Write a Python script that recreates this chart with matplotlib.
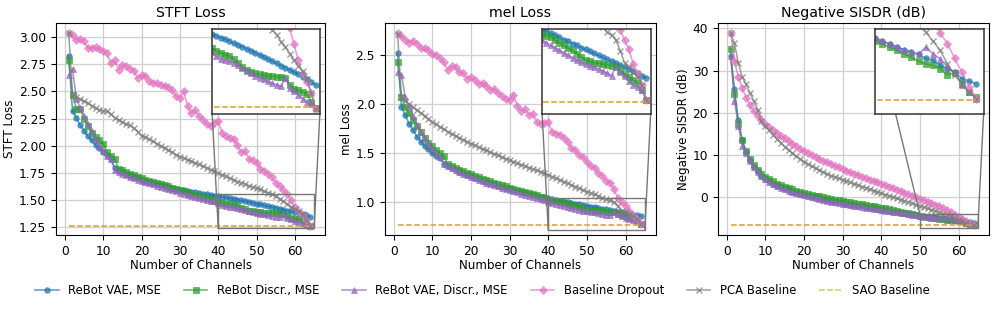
import numpy as np
import matplotlib
matplotlib.use("Agg")
import matplotlib.pyplot as plt
from matplotlib.lines import Line2D
from matplotlib.patches import ConnectionPatch

channels = list(range(1, 65))

# ---------------- STFT Loss ----------------
stft_vae = [2.83, 2.32, 2.26, 2.19, 2.14, 2.09, 2.05, 2.01, 1.98, 1.94, 1.92, 1.88, 1.80, 1.77, 1.755, 1.74,
            1.725, 1.71, 1.70, 1.69, 1.68, 1.67, 1.66, 1.65, 1.64, 1.63, 1.622, 1.614, 1.606, 1.598, 1.591, 1.584,
            1.577, 1.571, 1.565, 1.559, 1.553, 1.547, 1.542, 1.537, 1.531, 1.525, 1.519, 1.512, 1.505, 1.498, 1.491, 1.484,
            1.477, 1.469, 1.461, 1.453, 1.445, 1.437, 1.429, 1.421, 1.413, 1.405, 1.397, 1.389, 1.38, 1.371, 1.36, 1.349]
stft_discr = [2.79, 2.47, 2.34, 2.34, 2.25, 2.18, 2.12, 2.08, 2.05, 2.02, 1.94, 1.91, 1.88, 1.79, 1.775, 1.76,
              1.745, 1.73, 1.715, 1.70, 1.69, 1.68, 1.67, 1.66, 1.648, 1.637, 1.626, 1.615, 1.604, 1.59, 1.58, 1.57,
              1.56, 1.55, 1.54, 1.53, 1.52, 1.51, 1.497, 1.485, 1.475, 1.468, 1.462, 1.458, 1.445, 1.43, 1.415, 1.405,
              1.396, 1.392, 1.388, 1.385, 1.383, 1.381, 1.379, 1.377, 1.376, 1.35, 1.335, 1.328, 1.323, 1.315, 1.285, 1.262]
stft_vae_discr = [2.65, 2.71, 2.43, 2.35, 2.27, 2.20, 2.14, 2.06, 2.00, 1.95, 1.91, 1.88, 1.775, 1.76, 1.745, 1.73,
                  1.715, 1.70, 1.69, 1.68, 1.668, 1.656, 1.645, 1.634, 1.623, 1.612, 1.601, 1.59, 1.58, 1.57, 1.56, 1.551,
                  1.542, 1.533, 1.524, 1.515, 1.506, 1.497, 1.488, 1.472, 1.455, 1.447, 1.441, 1.437, 1.43, 1.423, 1.412, 1.402,
                  1.392, 1.383, 1.376, 1.369, 1.362, 1.355, 1.349, 1.343, 1.376, 1.337, 1.325, 1.313, 1.298, 1.287, 1.276, 1.264]
stft_dropout = [3.04, 3.02, 2.97, 2.98, 2.96, 2.90, 2.90, 2.91, 2.89, 2.87, 2.85, 2.76, 2.79, 2.70, 2.74, 2.73,
                2.71, 2.69, 2.62, 2.65, 2.64, 2.60, 2.58, 2.58, 2.56, 2.55, 2.54, 2.51, 2.46, 2.44, 2.50, 2.37,
                2.30, 2.33, 2.27, 2.24, 2.20, 2.18, 2.21, 2.23, 2.12, 2.09, 2.07, 2.06, 2.01, 1.94, 1.95, 1.88,
                1.87, 1.84, 1.79, 1.77, 1.74, 1.71, 1.66, 1.63, 1.59, 1.56, 1.50, 1.44, 1.39, 1.36, 1.32, 1.26]
stft_pca = [3.04, 2.47, 2.45, 2.43, 2.41, 2.39, 2.37, 2.35, 2.33, 2.32, 2.32, 2.29, 2.26, 2.24, 2.22, 2.20,
            2.19, 2.16, 2.13, 2.09, 2.08, 2.06, 2.04, 2.02, 2.00, 1.98, 1.96, 1.94, 1.92, 1.90, 1.89, 1.87,
            1.86, 1.84, 1.83, 1.81, 1.80, 1.78, 1.77, 1.75, 1.73, 1.72, 1.70, 1.69, 1.67, 1.66, 1.65, 1.63,
            1.62, 1.61, 1.60, 1.58, 1.57, 1.555, 1.535, 1.51, 1.49, 1.465, 1.44, 1.42, 1.40, 1.37, 1.32, 1.26]
stft_sao = 1.265

# ---------------- mel Loss ----------------
mel_vae = [2.52, 1.97, 1.89, 1.80, 1.74, 1.67, 1.62, 1.575, 1.54, 1.50, 1.47, 1.45, 1.39, 1.37, 1.35, 1.33,
           1.31, 1.295, 1.28, 1.265, 1.25, 1.236, 1.222, 1.209, 1.196, 1.183, 1.171, 1.159, 1.147, 1.136, 1.125, 1.114,
           1.104, 1.094, 1.085, 1.076, 1.067, 1.058, 1.05, 1.042, 1.034, 1.026, 1.018, 1.01, 1.002, 0.995, 0.987, 0.98,
           0.972, 0.965, 0.957, 0.95, 0.942, 0.935, 0.927, 0.92, 0.912, 0.905, 0.897, 0.89, 0.882, 0.874, 0.866, 0.857]
mel_discr = [2.43, 2.07, 1.97, 1.91, 1.84, 1.78, 1.72, 1.66, 1.61, 1.57, 1.53, 1.50, 1.47, 1.39, 1.37, 1.35,
             1.33, 1.315, 1.30, 1.285, 1.27, 1.255, 1.241, 1.227, 1.214, 1.201, 1.188, 1.175, 1.163, 1.151, 1.139, 1.127,
             1.115, 1.103, 1.092, 1.081, 1.07, 1.058, 1.046, 1.022, 1.017, 1.012, 1.0, 0.99, 0.98, 0.97, 0.962, 0.948,
             0.935, 0.925, 0.92, 0.914, 0.912, 0.909, 0.906, 0.903, 0.902, 0.885, 0.87, 0.86, 0.85, 0.838, 0.81, 0.775]
mel_vae_discr = [2.33, 2.30, 2.07, 1.98, 1.88, 1.79, 1.72, 1.66, 1.60, 1.55, 1.50, 1.46, 1.39, 1.37, 1.35, 1.33,
                 1.31, 1.29, 1.275, 1.26, 1.245, 1.23, 1.216, 1.202, 1.189, 1.176, 1.163, 1.15, 1.137, 1.125, 1.113, 1.101,
                 1.089, 1.078, 1.067, 1.056, 1.045, 1.034, 1.022, 1.0, 0.99, 0.98, 0.971, 0.962, 0.952, 0.943, 0.934, 0.925,
                 0.916, 0.908, 0.903, 0.897, 0.891, 0.883, 0.875, 0.866, 0.90, 0.88, 0.863, 0.845, 0.83, 0.822, 0.813, 0.775]
mel_dropout = [2.73, 2.70, 2.66, 2.63, 2.65, 2.62, 2.57, 2.57, 2.55, 2.51, 2.50, 2.47, 2.43, 2.35, 2.39, 2.38,
               2.33, 2.32, 2.26, 2.28, 2.25, 2.21, 2.22, 2.19, 2.15, 2.16, 2.12, 2.08, 2.05, 2.04, 2.10, 1.98,
               1.93, 1.95, 1.89, 1.90, 1.82, 1.80, 1.81, 1.82, 1.72, 1.70, 1.69, 1.66, 1.62, 1.55, 1.53, 1.48,
               1.46, 1.41, 1.37, 1.35, 1.30, 1.27, 1.22, 1.20, 1.14, 1.04, 1.00, 0.965, 0.91, 0.87, 0.83, 0.775]
mel_pca = [2.72, 2.07, 2.03, 2.00, 1.97, 1.94, 1.91, 1.88, 1.85, 1.82, 1.80, 1.77, 1.75, 1.72, 1.70, 1.68,
           1.66, 1.64, 1.62, 1.60, 1.58, 1.56, 1.545, 1.53, 1.51, 1.495, 1.48, 1.46, 1.445, 1.43, 1.415, 1.40,
           1.385, 1.37, 1.355, 1.34, 1.325, 1.31, 1.295, 1.28, 1.263, 1.246, 1.229, 1.212, 1.195, 1.178, 1.161, 1.144,
           1.127, 1.11, 1.095, 1.08, 1.065, 1.048, 1.03, 1.02, 1.0, 0.96, 0.915, 0.90, 0.88, 0.86, 0.83, 0.775]
mel_sao = 0.767

# ---------------- Negative SISDR ----------------
sisdr_vae = [33.5, 25.6, 18.3, 13.6, 10.8, 8.8, 7.3, 6.2, 5.2, 4.4, 3.8, 3.3, 2.8, 2.4, 2.0, 1.7,
             1.4, 1.1, 0.9, 0.7, 0.46, 0.23, 0.01, -0.21, -0.42, -0.62, -0.82, -1.0, -1.18, -1.35, -1.5, -1.66,
             -1.81, -1.97, -2.12, -2.28, -2.43, -2.59, -2.74, -2.9, -3.04, -3.18, -3.32, -3.46, -3.6, -3.74, -3.88, -4.02,
             -4.16, -4.3, -4.4, -4.5, -4.62, -4.72, -4.8, -4.9, -5.05, -5.12, -5.3, -5.45, -5.56, -5.8, -5.9, -6.0]
sisdr_discr = [35.2, 24.6, 17.5, 13.6, 10.9, 9.0, 7.6, 6.5, 5.6, 4.9, 4.3, 3.8, 3.3, 2.9, 2.5, 2.2,
               1.9, 1.6, 1.35, 1.1, 0.88, 0.66, 0.45, 0.25, 0.05, -0.14, -0.32, -0.5, -0.67, -0.84, -1.0, -1.16,
               -1.32, -1.48, -1.63, -1.78, -1.93, -2.08, -2.23, -2.38, -2.58, -2.78, -2.98, -3.18, -3.38, -3.58, -3.78, -3.98,
               -4.18, -4.38, -4.51, -4.63, -4.75, -4.88, -5.0, -5.16, -5.25, -5.31, -5.43, -5.65, -5.6, -5.99, -6.3, -6.5]
sisdr_vae_discr = [33.5, 22.9, 17.0, 12.3, 10.6, 8.6, 7.2, 6.1, 5.1, 4.3, 3.7, 3.2, 2.7, 2.3, 1.9, 1.6,
                   1.3, 1.0, 0.75, 0.5, 0.27, 0.05, -0.16, -0.37, -0.57, -0.76, -0.95, -1.13, -1.3, -1.47, -1.63, -1.79,
                   -1.94, -2.09, -2.24, -2.38, -2.52, -2.66, -2.8, -2.94, -3.08, -3.22, -3.36, -3.5, -3.64, -3.78, -3.92, -4.06,
                   -4.18, -4.3, -4.4, -4.5, -4.62, -4.75, -4.82, -4.88, -4.63, -4.88, -5.06, -5.37, -5.56, -6.05, -6.32, -6.55]
sisdr_dropout = [38.9, 32.3, 28.4, 26.0, 23.6, 21.8, 20.4, 19.3, 18.4, 17.5, 16.7, 16.0, 15.3, 14.6, 14.0, 13.3,
                 12.7, 12.1, 11.5, 11.0, 10.5, 10.0, 9.6, 9.1, 8.7, 8.3, 7.9, 7.5, 7.1, 6.7, 6.35, 6.0,
                 5.65, 5.3, 4.95, 4.6, 4.25, 3.9, 3.55, 3.2, 2.85, 2.5, 2.15, 1.8, 1.45, 1.1, 0.75, 0.4,
                 0.05, -0.3, -0.65, -1.0, -1.35, -1.7, -2.05, -2.45, -2.9, -3.55, -4.1, -4.5, -5.05, -5.56, -6.1, -6.55]
sisdr_pca = [38.9, 36.5, 31.8, 28.6, 26.8, 24.8, 22.8, 20.8, 18.0, 17.0, 15.9, 14.9, 13.9, 12.9, 12.0, 11.2,
             10.5, 9.8, 9.1, 8.5, 7.9, 7.4, 6.9, 6.45, 6.0, 5.6, 5.2, 4.85, 4.5, 4.2, 3.88, 3.56,
             3.24, 2.92, 2.6, 2.28, 1.96, 1.64, 1.32, 1.0, 0.7, 0.4, 0.1, -0.2, -0.5, -0.8, -1.1, -1.4,
             -1.7, -2.0, -2.3, -2.6, -2.9, -3.2, -3.5, -3.8, -4.07, -4.4, -4.75, -5.25, -5.68, -5.99, -6.3, -6.55]
sisdr_sao = -6.6

titles = ["STFT Loss", "mel Loss", "Negative SISDR (dB)"]
ylabels = ["STFT Loss", "mel Loss", "Negative SISDR (dB)"]
series_labels = ["ReBot VAE, MSE", "ReBot Discr., MSE", "ReBot VAE, Discr., MSE",
                 "Baseline Dropout", "PCA Baseline", "SAO Baseline"]

panels = [
    [stft_vae, stft_discr, stft_vae_discr, stft_dropout, stft_pca, stft_sao],
    [mel_vae, mel_discr, mel_vae_discr, mel_dropout, mel_pca, mel_sao],
    [sisdr_vae, sisdr_discr, sisdr_vae_discr, sisdr_dropout, sisdr_pca, sisdr_sao],
]

# styling (not data)
colors = ["tab:blue", "tab:green", "tab:purple", "tab:pink", "tab:gray"]
markers = ["o", "s", "^", "D", "x"]
msizes = [4.0, 3.9, 4.3, 3.9, 4.2]
sao_color = "#d6a228"
ax_rects = [[0.0562, 0.242, 0.270, 0.684],
            [0.386, 0.242, 0.272, 0.684],
            [0.720, 0.242, 0.272, 0.684]]
ylims = [(1.18, 3.13), (0.667, 2.83), (-8.87, 41.3)]
ins_xlims = [(40, 65), (40, 65), (50, 65)]
ins_ylims = [(1.24, 1.556), (0.72, 1.041), (-7.13, -3.96)]
ins_rect = [0.58, 0.57, 0.40, 0.40]
# which inset corners get a connector: (inset corner in axes fraction, rect corner index)
conn_sets = [[((0, 0), "ll"), ((1, 0), "lr")],
             [((0, 0), "ll"), ((1, 0), "lr")],
             [((0, 1), "ul"), ((1, 0), "lr")]]

plt.rcParams["font.family"] = ["DejaVu Sans"]
fig = plt.figure(figsize=(9.97, 3.10), dpi=100)

handles = []
for i, data in enumerate(panels):
    ax = fig.add_axes(ax_rects[i])
    ax.grid(True, color="#cfcfcf", linewidth=0.9)
    ax.set_axisbelow(True)
    axins = ax.inset_axes(ins_rect)
    for target, small in ((ax, False), (axins, True)):
        for k in range(5):
            ln, = target.plot(channels, data[k], color=colors[k], marker=markers[k],
                              markersize=msizes[k], linewidth=1.1, alpha=0.75,
                              markeredgewidth=1.0 if markers[k] == "x" else 0.5,
                              label=series_labels[k])
            if i == 0 and not small:
                handles.append(ln)
        target.plot(channels, [data[5]] * len(channels), color=sao_color,
                    linestyle="--", linewidth=1.1)
    x0, x1 = ins_xlims[i]
    y0, y1 = ins_ylims[i]
    axins.set_xlim(x0, x1)
    axins.set_ylim(y0, y1)
    axins.set_xticks([])
    axins.set_yticks([])
    for sp in axins.spines.values():
        sp.set_edgecolor("#333333")
        sp.set_linewidth(1.1)
    ax.indicate_inset([x0, y0, x1 - x0, y1 - y0], edgecolor="#777777", alpha=1.0, linewidth=1.0)
    corners = {"ll": (x0, y0), "lr": (x1, y0), "ul": (x0, y1), "ur": (x1, y1)}
    for ins_corner, rect_corner in conn_sets[i]:
        cp = ConnectionPatch(xyA=ins_corner, coordsA=axins.transAxes,
                             xyB=corners[rect_corner], coordsB=ax.transData,
                             color="#777777", linewidth=1.0, zorder=4.5)
        ax.add_artist(cp)
    ax.set_xlim(-2.3, 67.9)
    ax.set_ylim(*ylims[i])
    ax.set_xticks([0, 10, 20, 30, 40, 50, 60])
    ax.tick_params(labelsize=8.8)
    ax.set_title(titles[i], fontsize=10.2, pad=4)
    ax.set_xlabel("Number of Channels", fontsize=8.6, labelpad=1)
    ax.set_ylabel(ylabels[i], fontsize=8.6, labelpad=2)

handles.append(Line2D([], [], color="tab:olive", linestyle="--", linewidth=1.1, alpha=0.75))
fig.legend(handles, series_labels, loc="center", bbox_to_anchor=(0.484, 0.063),
           ncol=6, frameon=False, fontsize=8.4)

fig.savefig("out.png", dpi=100)
